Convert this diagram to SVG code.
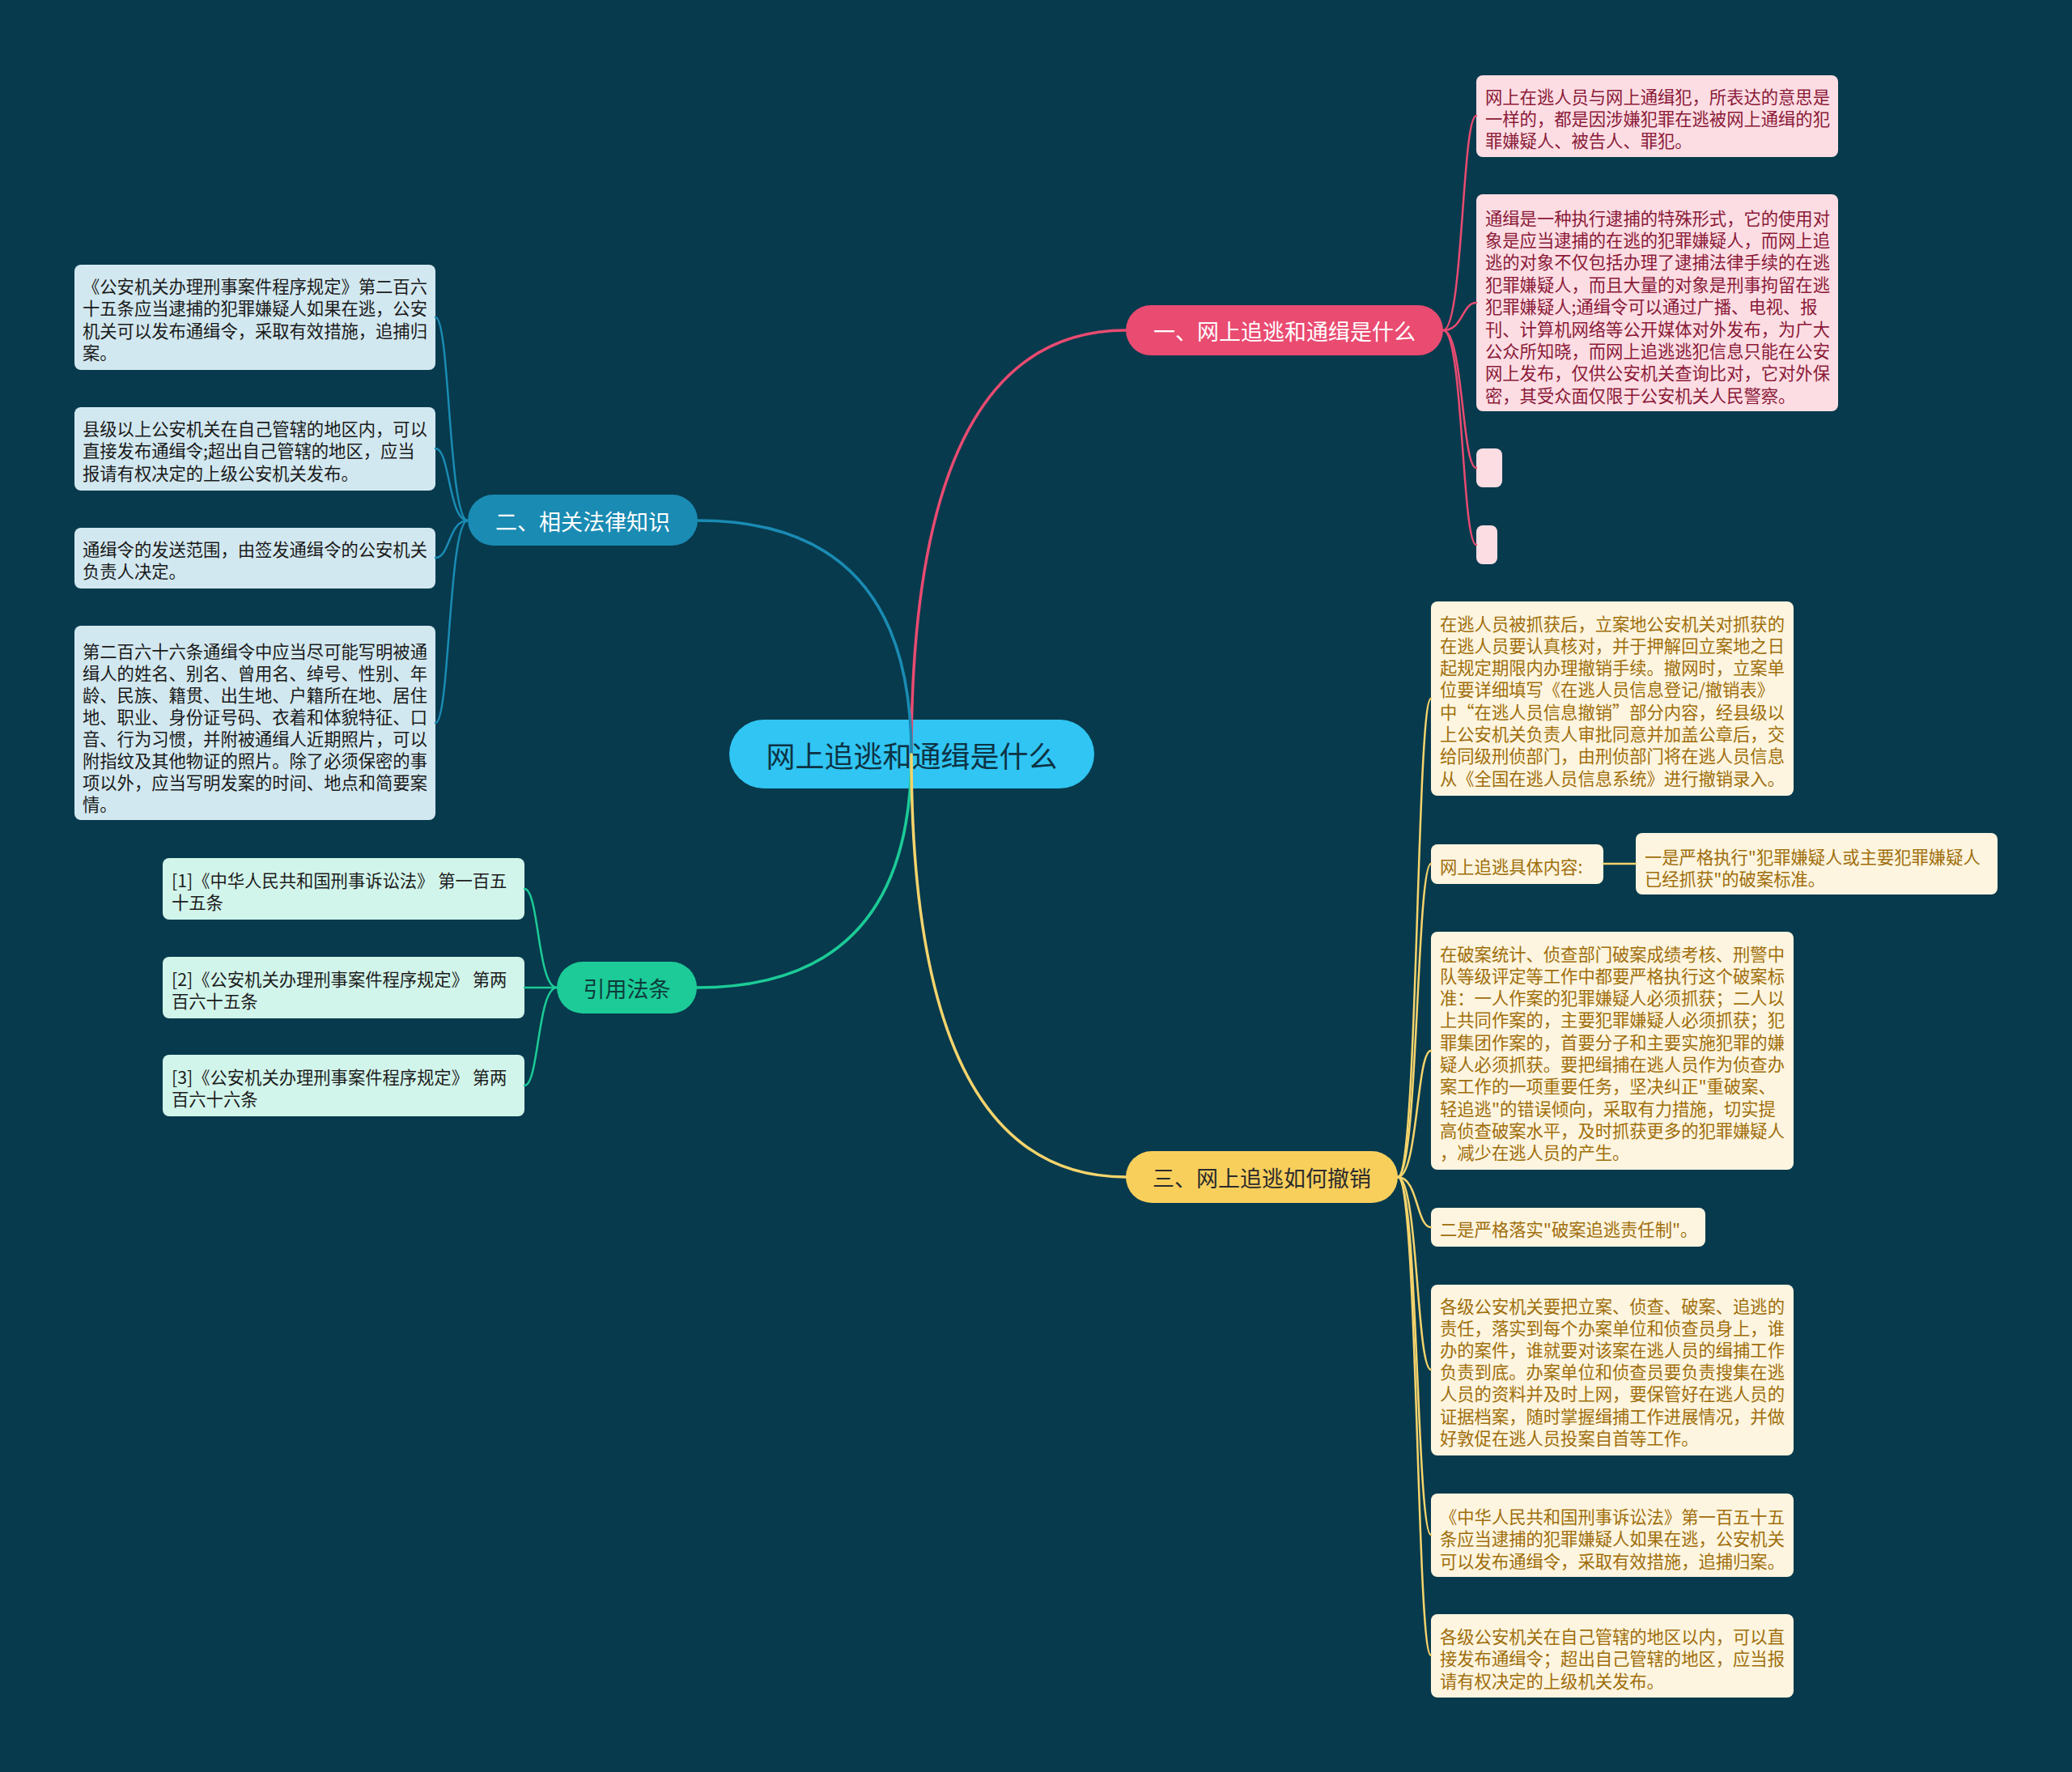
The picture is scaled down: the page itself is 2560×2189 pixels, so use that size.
<svg xmlns="http://www.w3.org/2000/svg" width="2560" height="2189" viewBox="0 0 2560 2189">
<style>
text{font-family:"Noto Sans CJK SC","Noto Sans",sans-serif;dominant-baseline:central}
.lf{font-size:21.3px}
.br{font-size:27px;text-anchor:middle}
.c{fill:none;stroke-linecap:round}
.pk{stroke:#e94b71}
.bl{stroke:#1a8bb3}
.gr{stroke:#1ccb97}
.ye{stroke:#f6d46c}
.main{stroke-width:3.5}
.sub{stroke-width:2.5}
.pkl rect{fill:#fddde4}
.pkl text{fill:#8a1a38}
.bll rect{fill:#d2e8f0}
.bll text{fill:#1a1a1a}
.grl rect{fill:#d2f5eb}
.grl text{fill:#1c1c1c}
.yel rect{fill:#fdf5df}
.yel text{fill:#a06e0c}
</style>
<rect width="2560" height="2189" fill="#073a4d"/>

<g id="root">
<rect x="901" y="889" width="451" height="85" rx="42.5" fill="#30c5f3"/>
<text x="1126.5" y="932" font-size="36" text-anchor="middle" fill="#0d3344">网上追逃和通缉是什么</text>
</g>

<g id="b1"><rect x="1391" y="377" width="392" height="62" rx="31" fill="#e94b71"/><text class="br" x="1587" y="408" fill="#ffffff">一、网上追逃和通缉是什么</text></g>
<g id="b2"><rect x="578" y="611" width="284" height="63" rx="31.5" fill="#1a8bb3"/><text class="br" x="720" y="643" fill="#ffffff">二、相关法律知识</text></g>
<g id="b3"><rect x="688" y="1188" width="173" height="64" rx="32" fill="#1ccb97"/><text class="br" x="774.5" y="1220" fill="#0d3b3b">引用法条</text></g>
<g id="b4"><rect x="1391" y="1422" width="336" height="64" rx="32" fill="#f9cf5c"/><text class="br" x="1559" y="1454" fill="#2b2b2b">三、网上追逃如何撤销</text></g>

<g id="l1a" class="pkl"><rect x="1824" y="93" width="447" height="101" rx="8"/>
<text class="lf" x="1835" y="118">网上在逃人员与网上通缉犯，所表达的意思是</text>
<text class="lf" x="1835" y="145">一样的，都是因涉嫌犯罪在逃被网上通缉的犯</text>
<text class="lf" x="1835" y="172">罪嫌疑人、被告人、罪犯。</text></g>

<g id="l1b" class="pkl"><rect x="1824" y="240" width="447" height="268" rx="8"/>
<text class="lf" x="1835" y="268">通缉是一种执行逮捕的特殊形式，它的使用对</text>
<text class="lf" x="1835" y="295.4">象是应当逮捕的在逃的犯罪嫌疑人，而网上追</text>
<text class="lf" x="1835" y="322.8">逃的对象不仅包括办理了逮捕法律手续的在逃</text>
<text class="lf" x="1835" y="350.2">犯罪嫌疑人，而且大量的对象是刑事拘留在逃</text>
<text class="lf" x="1835" y="377.6">犯罪嫌疑人;通缉令可以通过广播、电视、报</text>
<text class="lf" x="1835" y="405">刊、计算机网络等公开媒体对外发布，为广大</text>
<text class="lf" x="1835" y="432.4">公众所知晓，而网上追逃逃犯信息只能在公安</text>
<text class="lf" x="1835" y="459.8">网上发布，仅供公安机关查询比对，它对外保</text>
<text class="lf" x="1835" y="487.2">密，其受众面仅限于公安机关人民警察。</text></g>

<g id="l1c" class="pkl"><rect x="1824" y="554" width="32" height="48" rx="8"/></g>
<g id="l1d" class="pkl"><rect x="1824" y="649" width="26" height="48" rx="8"/></g>

<g id="l2a" class="bll"><rect x="92" y="327" width="446" height="130" rx="8"/>
<text class="lf" x="102" y="352">《公安机关办理刑事案件程序规定》第二百六</text>
<text class="lf" x="102" y="379.5">十五条应当逮捕的犯罪嫌疑人如果在逃，公安</text>
<text class="lf" x="102" y="407">机关可以发布通缉令，采取有效措施，追捕归</text>
<text class="lf" x="102" y="434.5">案。</text></g>

<g id="l2b" class="bll"><rect x="92" y="503" width="446" height="103" rx="8"/>
<text class="lf" x="102" y="528">县级以上公安机关在自己管辖的地区内，可以</text>
<text class="lf" x="102" y="555.5">直接发布通缉令;超出自己管辖的地区，应当</text>
<text class="lf" x="102" y="583">报请有权决定的上级公安机关发布。</text></g>

<g id="l2c" class="bll"><rect x="92" y="652" width="446" height="75" rx="8"/>
<text class="lf" x="102" y="677">通缉令的发送范围，由签发通缉令的公安机关</text>
<text class="lf" x="102" y="704.5">负责人决定。</text></g>

<g id="l2d" class="bll"><rect x="92" y="773" width="446" height="240" rx="8"/>
<text class="lf" x="102" y="803">第二百六十六条通缉令中应当尽可能写明被通</text>
<text class="lf" x="102" y="830">缉人的姓名、别名、曾用名、绰号、性别、年</text>
<text class="lf" x="102" y="857">龄、民族、籍贯、出生地、户籍所在地、居住</text>
<text class="lf" x="102" y="884">地、职业、身份证号码、衣着和体貌特征、口</text>
<text class="lf" x="102" y="911">音、行为习惯，并附被通缉人近期照片，可以</text>
<text class="lf" x="102" y="938">附指纹及其他物证的照片。除了必须保密的事</text>
<text class="lf" x="102" y="965">项以外，应当写明发案的时间、地点和简要案</text>
<text class="lf" x="102" y="992">情。</text></g>

<g id="l3a" class="grl"><rect x="201" y="1060" width="447" height="76" rx="8"/>
<text class="lf" x="212" y="1086">[1]《中华人民共和国刑事诉讼法》 第一百五</text>
<text class="lf" x="212" y="1113">十五条</text></g>
<g id="l3b" class="grl"><rect x="201" y="1182" width="447" height="76" rx="8"/>
<text class="lf" x="212" y="1208">[2]《公安机关办理刑事案件程序规定》 第两</text>
<text class="lf" x="212" y="1235">百六十五条</text></g>
<g id="l3c" class="grl"><rect x="201" y="1303" width="447" height="76" rx="8"/>
<text class="lf" x="212" y="1329">[3]《公安机关办理刑事案件程序规定》 第两</text>
<text class="lf" x="212" y="1356">百六十六条</text></g>

<g id="l4a" class="yel"><rect x="1768" y="743" width="448" height="240" rx="8"/>
<text class="lf" x="1779" y="769">在逃人员被抓获后，立案地公安机关对抓获的</text>
<text class="lf" x="1779" y="796.3">在逃人员要认真核对，并于押解回立案地之日</text>
<text class="lf" x="1779" y="823.6">起规定期限内办理撤销手续。撤网时，立案单</text>
<text class="lf" x="1779" y="850.9">位要详细填写《在逃人员信息登记/撤销表》</text>
<text class="lf" x="1779" y="878.2">中“在逃人员信息撤销”部分内容，经县级以</text>
<text class="lf" x="1779" y="905.5">上公安机关负责人审批同意并加盖公章后，交</text>
<text class="lf" x="1779" y="932.8">给同级刑侦部门，由刑侦部门将在逃人员信息</text>
<text class="lf" x="1779" y="960.1">从《全国在逃人员信息系统》进行撤销录入。</text></g>

<g id="l4b" class="yel"><rect x="1768" y="1043" width="213" height="49" rx="8"/>
<text class="lf" x="1779" y="1069">网上追逃具体内容:</text></g>

<g id="l4b1" class="yel"><rect x="2021" y="1029" width="447" height="76" rx="8"/>
<text class="lf" x="2032" y="1057">一是严格执行"犯罪嫌疑人或主要犯罪嫌疑人</text>
<text class="lf" x="2032" y="1084">已经抓获"的破案标准。</text></g>

<g id="l4c" class="yel"><rect x="1768" y="1151" width="448" height="294" rx="8"/>
<text class="lf" x="1779" y="1177">在破案统计、侦查部门破案成绩考核、刑警中</text>
<text class="lf" x="1779" y="1204.3">队等级评定等工作中都要严格执行这个破案标</text>
<text class="lf" x="1779" y="1231.6">准：一人作案的犯罪嫌疑人必须抓获；二人以</text>
<text class="lf" x="1779" y="1258.9">上共同作案的，主要犯罪嫌疑人必须抓获；犯</text>
<text class="lf" x="1779" y="1286.2">罪集团作案的，首要分子和主要实施犯罪的嫌</text>
<text class="lf" x="1779" y="1313.5">疑人必须抓获。要把缉捕在逃人员作为侦查办</text>
<text class="lf" x="1779" y="1340.8">案工作的一项重要任务，坚决纠正"重破案、</text>
<text class="lf" x="1779" y="1368.1">轻追逃"的错误倾向，采取有力措施，切实提</text>
<text class="lf" x="1779" y="1395.4">高侦查破案水平，及时抓获更多的犯罪嫌疑人</text>
<text class="lf" x="1779" y="1422.7">，减少在逃人员的产生。</text></g>

<g id="l4d" class="yel"><rect x="1768" y="1492" width="339" height="48" rx="8"/>
<text class="lf" x="1779" y="1517">二是严格落实"破案追逃责任制"。</text></g>

<g id="l4e" class="yel"><rect x="1768" y="1587" width="448" height="211" rx="8"/>
<text class="lf" x="1779" y="1612">各级公安机关要把立案、侦查、破案、追逃的</text>
<text class="lf" x="1779" y="1639.2">责任，落实到每个办案单位和侦查员身上，谁</text>
<text class="lf" x="1779" y="1666.4">办的案件，谁就要对该案在逃人员的缉捕工作</text>
<text class="lf" x="1779" y="1693.6">负责到底。办案单位和侦查员要负责搜集在逃</text>
<text class="lf" x="1779" y="1720.8">人员的资料并及时上网，要保管好在逃人员的</text>
<text class="lf" x="1779" y="1748">证据档案，随时掌握缉捕工作进展情况，并做</text>
<text class="lf" x="1779" y="1775.2">好敦促在逃人员投案自首等工作。</text></g>

<g id="l4f" class="yel"><rect x="1768" y="1845" width="448" height="103" rx="8"/>
<text class="lf" x="1779" y="1872">《中华人民共和国刑事诉讼法》第一百五十五</text>
<text class="lf" x="1779" y="1899.5">条应当逮捕的犯罪嫌疑人如果在逃，公安机关</text>
<text class="lf" x="1779" y="1927">可以发布通缉令，采取有效措施，追捕归案。</text></g>

<g id="l4g" class="yel"><rect x="1768" y="1994" width="448" height="103" rx="8"/>
<text class="lf" x="1779" y="2020">各级公安机关在自己管辖的地区以内，可以直</text>
<text class="lf" x="1779" y="2047.5">接发布通缉令；超出自己管辖的地区，应当报</text>
<text class="lf" x="1779" y="2075">请有权决定的上级机关发布。</text></g>

<g id="connectors">
<path class="c pk main" d="M1126,932 Q1126,408 1391,408"/>
<path class="c bl main" d="M1126,932 Q1126,643 862,643"/>
<path class="c gr main" d="M1126,932 Q1126,1220 861,1220"/>
<path class="c ye main" d="M1126,932 Q1126,1454 1391,1454"/>

<path class="c pk sub" d="M1783,408 C1808,408 1806,143 1824,143"/>
<path class="c pk sub" d="M1783,408 C1808,408 1806,374 1824,374"/>
<path class="c pk sub" d="M1783,408 C1808,408 1806,578 1824,578"/>
<path class="c pk sub" d="M1783,408 C1808,408 1806,673 1824,673"/>

<path class="c bl sub" d="M578,643 C554,643 556,392 538,392"/>
<path class="c bl sub" d="M578,643 C554,643 556,554 538,554"/>
<path class="c bl sub" d="M578,643 C554,643 556,689 538,689"/>
<path class="c bl sub" d="M578,643 C554,643 556,893 538,893"/>

<path class="c gr sub" d="M688,1220 C664,1220 666,1098 648,1098"/>
<path class="c gr sub" d="M688,1220 L648,1220"/>
<path class="c gr sub" d="M688,1220 C664,1220 666,1341 648,1341"/>

<path class="c ye sub" d="M1727,1454 C1752,1454 1750,863 1768,863"/>
<path class="c ye sub" d="M1727,1454 C1752,1454 1750,1067 1768,1067"/>
<path class="c ye sub" d="M1727,1454 C1752,1454 1750,1298 1768,1298"/>
<path class="c ye sub" d="M1727,1454 C1752,1454 1750,1516 1768,1516"/>
<path class="c ye sub" d="M1727,1454 C1752,1454 1750,1692 1768,1692"/>
<path class="c ye sub" d="M1727,1454 C1752,1454 1750,1896 1768,1896"/>
<path class="c ye sub" d="M1727,1454 C1752,1454 1750,2045 1768,2045"/>
<path class="c ye sub" d="M1981,1067 L2021,1067"/>
</g>
</svg>
